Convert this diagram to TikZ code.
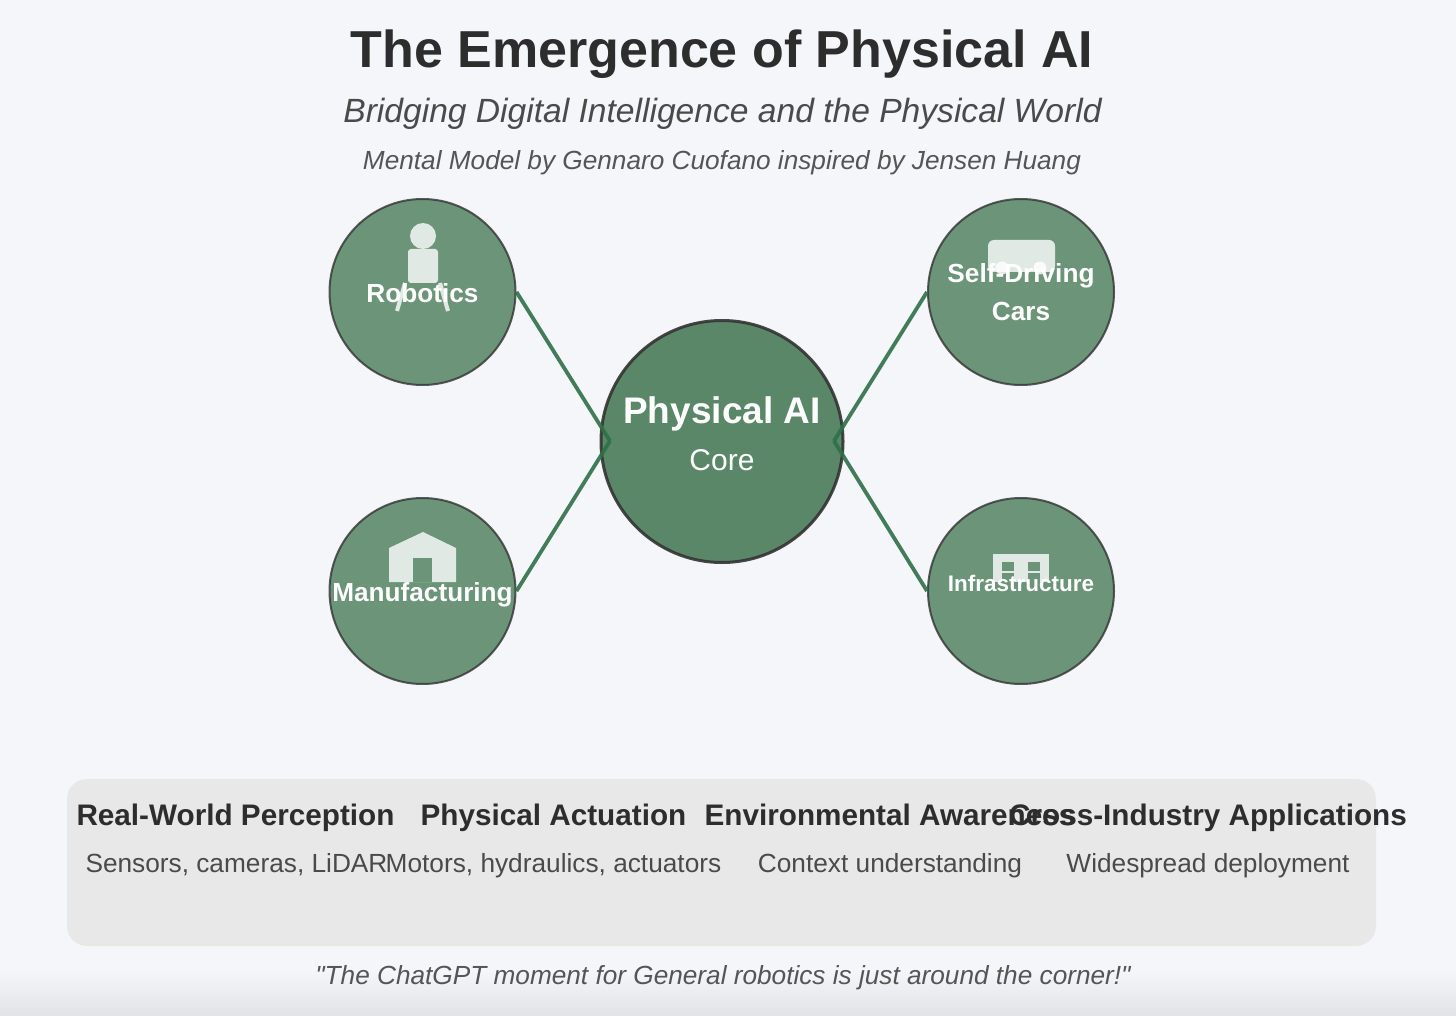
\documentclass[tikz,border=0pt]{standalone}
\usepackage{fontspec}
\setmainfont{Liberation Sans}[Ligatures=TeXOff]
\usetikzlibrary{calc}
\definecolor{bgc}{HTML}{F5F6FA}
\definecolor{bgd}{HTML}{E2E3E6}
\definecolor{panelc}{HTML}{E8E8E8}
\definecolor{nodec}{HTML}{4A7C59}
\definecolor{linkc}{HTML}{2E7048}
\definecolor{inkc}{HTML}{2D2D2D}
\definecolor{ink2}{HTML}{4A4A4A}
\definecolor{ink3}{HTML}{555555}
\newcommand{\fsz}[1]{\fontsize{#1}{#1}\selectfont}
\tikzset{
  x=1pt,y=-1pt,
  outer/.style={circle,draw=black!80,line width=2pt,fill=nodec,opacity=.8,minimum size=186pt,inner sep=0pt},
  core/.style={circle,draw=black!80,line width=3pt,fill=nodec,opacity=.9,minimum size=242pt,inner sep=0pt},
  link/.style={draw=linkc,line width=3.8pt,opacity=.9},
  icon/.style={fill=white,fill opacity=.8,draw=none},
  iconline/.style={draw=white,draw opacity=.8,line width=4pt},
  hole/.style={fill=nodec!80!bgc,draw=none},
  base/.style={anchor=base,inner sep=0pt,align=center},
  title/.style={base,font=\fsz{52}\bfseries,text=inkc},
  subtitle/.style={base,font=\fsz{33.6}\itshape,text=ink2},
  credit/.style={base,font=\fsz{26.2}\itshape,text=ink3},
  olabel/.style={base,font=\fsz{26.2}\bfseries,text=white},
  featurehead/.style={base,font=\fsz{29.7}\bfseries,text=inkc},
  featuretext/.style={base,font=\fsz{26.25}\color{ink2}},
}
\begin{document}
\begin{tikzpicture}
\useasboundingbox (0,0) rectangle (1456,1016);
\fill[bgc] (0,0) rectangle (1456,1016);
\shade[top color=bgc,bottom color=bgd] (0,970) rectangle (1456,1016);

\node[title] (ttl) at (722,68) {The Emergence of Physical AI};
\node[subtitle] (sub) at (722.5,123) {Bridging Digital Intelligence and the Physical World};
\node[credit] (cred) at (722,170) {Mental Model by Gennaro Cuofano inspired by Jensen Huang};

\coordinate (tipL) at (610,441);
\coordinate (tipR) at (834,441);
\node[outer] (rob) at (422.5,292) {};
\node[outer] (car) at (1021,292) {};
\node[outer] (man) at (422.5,591) {};
\node[outer] (inf) at (1021,591) {};
\node[core] (cen) at (722,441.5) {};
\draw[link] (rob.east) -- (tipL);
\draw[link] (man.east) -- (tipL);
\draw[link] (car.west) -- (tipR);
\draw[link] (inf.west) -- (tipR);

% robot icon
\fill[icon] (423,236) circle (13);
\fill[icon,rounded corners=3pt] (408,249) rectangle (438,283);
\draw[iconline] (405,283) -- (397,311);
\draw[iconline] (440,283) -- (448,311);
% car icon
\fill[icon,rounded corners=6pt] (988,240) rectangle (1055,272);
\fill[icon] (1002,268) circle (6.5);
\fill[icon] (1040,268) circle (6.5);
% factory icon
\fill[icon] (389,548) -- (423,532) -- (456,548) -- (456,582) -- (389,582) -- cycle;
\fill[hole] (413,558) rectangle (432,582);
% building icon
\fill[icon] (993,554) rectangle (1049,582);
\fill[hole] (1002,562) rectangle (1014,571);
\fill[hole] (1028,562) rectangle (1040,571);
\fill[hole] (1002,573) rectangle (1014,582);
\fill[hole] (1028,573) rectangle (1040,582);

\node[olabel] (lrob) at (422.5,302) {Robotics};
\node[olabel] (lcar1) at (1021,283) {Self-Driving};
\node[olabel] (lcar2) at (1021,320) {Cars};
\node[olabel] (lman) at (422.5,601) {Manufacturing};
\node[olabel,font=\fsz{22.5}\bfseries] (linf) at (1021,591) {Infrastructure};
\node[base,font=\fsz{37}\bfseries,text=white] (lcen) at (722,423) {Physical AI};
\node[base,font=\fsz{30}\color{white}] (lcore) at (722,470) {Core};

\fill[panelc,rounded corners=20pt] (67,779) rectangle (1376,946);
\node[featurehead] (h1) at (235.5,825) {Real-World Perception};
\node[featurehead] (h2) at (553.5,825) {Physical Actuation};
\node[featurehead] (h3) at (890,825) {Environmental Awareness};
\node[featurehead] (h4) at (1208,825) {Cross-Industry Applications};
\node[featuretext] (d1) at (236.5,872) {Sensors, cameras, LiDAR};
\node[featuretext] (d2) at (553.5,872) {Motors, hydraulics, actuators};
\node[featuretext] (d3) at (890,872) {Context understanding};
\node[featuretext] (d4) at (1208,872) {Widespread deployment};
\node[credit] (quote) at (723,984) {"The ChatGPT moment for General robotics is just around the corner!"};
\end{tikzpicture}
\end{document}
